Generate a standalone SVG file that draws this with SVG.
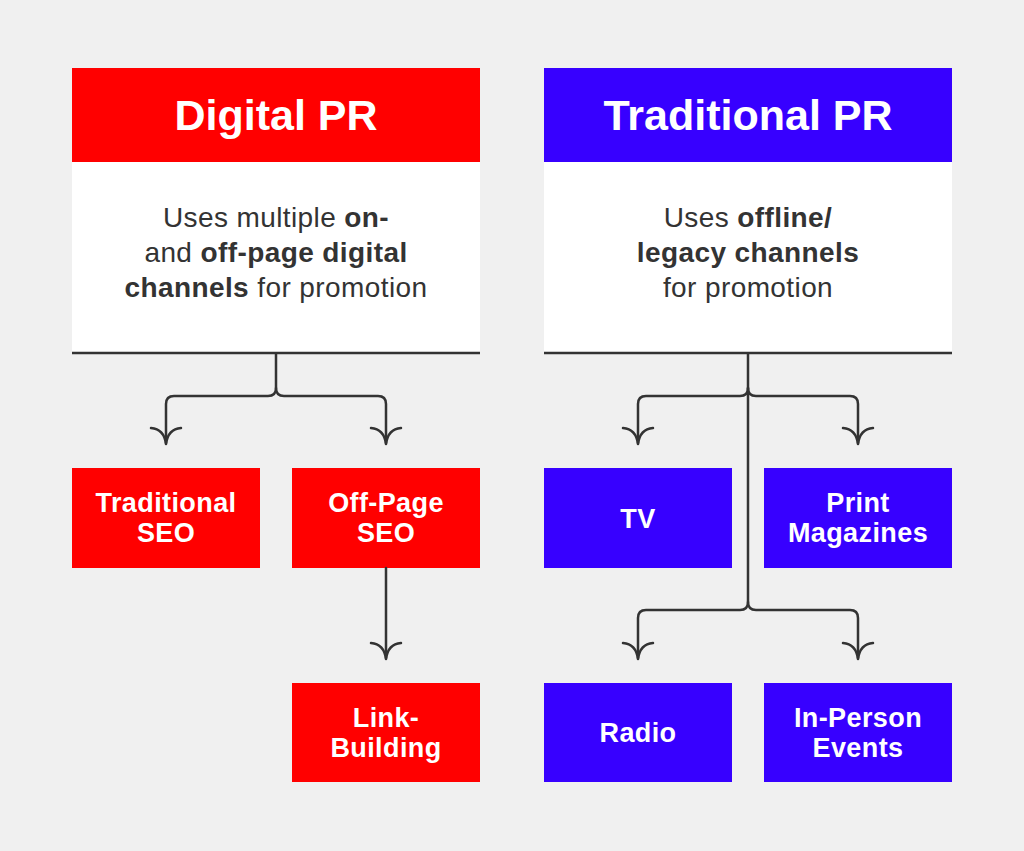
<svg xmlns="http://www.w3.org/2000/svg" width="1024" height="851" viewBox="0 0 1024 851">
<style>
.red{fill:#FF0000}
.blue{fill:#3700FF}
.white{fill:#FFFFFF}
.hd{font-family:"Liberation Sans",Arial,sans-serif;font-weight:bold;font-size:43px;fill:#FFFFFF;text-anchor:middle}
.body{font-family:"Liberation Sans",Arial,sans-serif;font-size:28px;letter-spacing:0.4px;fill:#333333;text-anchor:middle}
.b{font-weight:bold}
.lbl{font-family:"Liberation Sans",Arial,sans-serif;font-weight:bold;font-size:27px;letter-spacing:0.4px;fill:#FFFFFF;text-anchor:middle}
.ln{fill:none;stroke:#333333;stroke-width:2.5;stroke-linecap:round;stroke-linejoin:round}
</style>
<defs>
<path id="ah" class="ln" d="M-15,-16 Q-2,-15 0,0 Q2,-15 15,-16"/>
</defs>
<rect width="1024" height="851" fill="#F0F0F0"/>

<g id="digital-pr">
<rect class="red" x="72" y="68" width="408" height="94"/>
<rect class="white" x="72" y="162" width="408" height="191"/>
<line x1="72" y1="353" x2="480" y2="353" stroke="#333333" stroke-width="2.5"/>
<text class="hd" x="276" y="130">Digital PR</text>
<text class="body" x="276" y="227">Uses multiple <tspan class="b">on-</tspan></text>
<text class="body" x="276" y="262">and <tspan class="b">off-page digital</tspan></text>
<text class="body" x="276" y="297"><tspan class="b">channels</tspan> for promotion</text>
</g>

<g id="traditional-pr">
<rect class="blue" x="544" y="68" width="408" height="94"/>
<rect class="white" x="544" y="162" width="408" height="191"/>
<line x1="544" y1="353" x2="952" y2="353" stroke="#333333" stroke-width="2.5"/>
<text class="hd" x="748" y="130">Traditional PR</text>
<text class="body" x="748" y="227">Uses <tspan class="b">offline/</tspan></text>
<text class="body b" x="748" y="262">legacy channels</text>
<text class="body" x="748" y="297">for promotion</text>
</g>

<g id="traditional-seo">
<rect class="red" x="72" y="468" width="188" height="100"/>
<text class="lbl" x="166" y="512">Traditional</text>
<text class="lbl" x="166" y="542">SEO</text>
</g>
<g id="off-page-seo">
<rect class="red" x="292" y="468" width="188" height="100"/>
<text class="lbl" x="386" y="512">Off-Page</text>
<text class="lbl" x="386" y="542">SEO</text>
</g>
<g id="link-building">
<rect class="red" x="292" y="683" width="188" height="99"/>
<text class="lbl" x="386" y="727">Link-</text>
<text class="lbl" x="386" y="757">Building</text>
</g>
<g id="tv">
<rect class="blue" x="544" y="468" width="188" height="100"/>
<text class="lbl" x="638" y="528">TV</text>
</g>
<g id="print-magazines">
<rect class="blue" x="764" y="468" width="188" height="100"/>
<text class="lbl" x="858" y="512">Print</text>
<text class="lbl" x="858" y="542">Magazines</text>
</g>
<g id="radio">
<rect class="blue" x="544" y="683" width="188" height="99"/>
<text class="lbl" x="638" y="742">Radio</text>
</g>
<g id="in-person-events">
<rect class="blue" x="764" y="683" width="188" height="99"/>
<text class="lbl" x="858" y="727">In-Person</text>
<text class="lbl" x="858" y="757">Events</text>
</g>

<g id="connectors">
<path class="ln" d="M276 354 V388 Q276 396 268 396 H174 Q166 396 166 404 V443"/>
<path class="ln" d="M276 388 Q276 396 284 396 H378 Q386 396 386 404 V443"/>
<use href="#ah" x="166" y="444"/>
<use href="#ah" x="386" y="444"/>
<path class="ln" d="M386 568 V658"/>
<use href="#ah" x="386" y="659"/>
<path class="ln" d="M748 354 V602 Q748 610 740 610 H646 Q638 610 638 618 V658"/>
<path class="ln" d="M748 602 Q748 610 756 610 H850 Q858 610 858 618 V658"/>
<path class="ln" d="M748 388 Q748 396 740 396 H646 Q638 396 638 404 V443"/>
<path class="ln" d="M748 388 Q748 396 756 396 H850 Q858 396 858 404 V443"/>
<use href="#ah" x="638" y="444"/>
<use href="#ah" x="858" y="444"/>
<use href="#ah" x="638" y="659"/>
<use href="#ah" x="858" y="659"/>
</g>
</svg>
